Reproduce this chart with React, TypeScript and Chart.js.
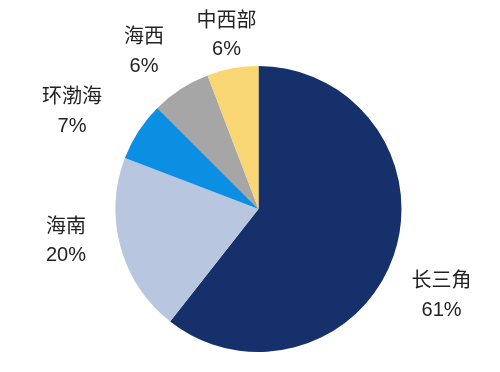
import React, { useEffect, useRef } from "react";
import { Chart, registerables } from "chart.js";

Chart.register(...registerables);

const regions = ["长三角", "海南", "环渤海", "海西", "中西部"];
const shares = [60.6, 20.2, 6.7, 6.7, 5.8];
const shareLabels = ["61%", "20%", "7%", "6%", "6%"];
const colors = ["#15306A", "#B8C6DF", "#0B8FE2", "#A6A6A6", "#F9D674"];

// label placement styling: radial factor + small per-label nudges (px)
const LABEL_RADIUS = 1.35;
const labelNudgeX = [0.6, -6.5, -24.5, -9.5, 3];
const labelNudgeY = [23.9, -19, 8, 5, 16.4];

const FONT = "20px 'Liberation Sans', 'Noto Sans CJK SC', sans-serif";
const LINE = 28.5;

const outsideLabels = {
  id: "outsideLabels",
  afterDatasetsDraw(chart: any) {
    const ctx = chart.ctx;
    const meta = chart.getDatasetMeta(0);
    ctx.save();
    ctx.font = FONT;
    ctx.fillStyle = "#222222";
    ctx.textAlign = "center";
    ctx.textBaseline = "middle";
    meta.data.forEach((arc: any, i: number) => {
      const p = arc.getProps(["x", "y", "startAngle", "endAngle", "outerRadius"], true);
      const mid = (p.startAngle + p.endAngle) / 2;
      const d = p.outerRadius * LABEL_RADIUS;
      const cx = p.x + Math.cos(mid) * d + labelNudgeX[i];
      const cy = p.y + Math.sin(mid) * d + labelNudgeY[i];
      ctx.fillText(regions[i], cx, cy - LINE / 2);
      ctx.fillText(shareLabels[i], cx, cy + LINE / 2);
    });
    ctx.restore();
  },
};

export default function App() {
  const ref = useRef<HTMLCanvasElement | null>(null);
  useEffect(() => {
    document.body.style.margin = "0";
    const chart = new Chart(ref.current as HTMLCanvasElement, {
      type: "pie",
      data: {
        labels: regions,
        datasets: [
          {
            data: shares,
            backgroundColor: colors,
            borderWidth: 0,
          },
        ],
      },
      options: {
        animation: false,
        responsive: false,
        maintainAspectRatio: false,
        layout: { padding: { left: 115.5, right: 98.5, top: 66, bottom: 20 } },
        plugins: {
          legend: { display: false },
          tooltip: { enabled: false },
          title: { display: false },
        },
      },
      plugins: [outsideLabels],
    });
    return () => chart.destroy();
  }, []);
  return (
    <div style={{ width: 500, height: 372, background: "#fff" }}>
      <canvas ref={ref} width={500} height={372} />
    </div>
  );
}
